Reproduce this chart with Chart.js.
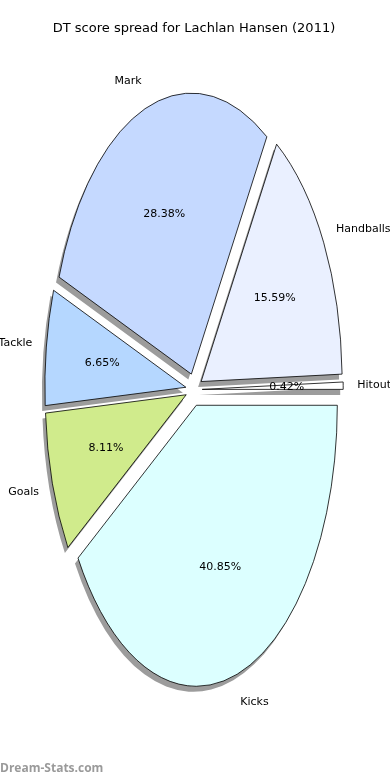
<!DOCTYPE html>
<html>
<head>
<meta charset="utf-8">
<script src="https://cdn.jsdelivr.net/npm/chart.js@4.4.1/dist/chart.umd.min.js"></script>
<style>
  html, body { margin: 0; padding: 0; background: #ffffff; }
  canvas { display: block; }
</style>
</head>
<body>
<canvas id="c" width="390" height="780"></canvas>
<script>
// ---- data (clockwise drawing order, starting at 3 o'clock) ----
const categories  = ['Kicks', 'Goals', 'Tackle', 'Mark', 'Handballs', 'Hitout'];
const percentages = [40.85, 8.11, 6.65, 28.38, 15.59, 0.42];
const sliceColors = ['#dcffff', '#d0eb8c', '#b5d7ff', '#c5d9ff', '#eaf0ff', '#ffffff'];
const chartTitle  = 'DT score spread for Lachlan Hansen (2011)';
const watermark   = 'Dream-Stats.com';

// ---- styling ----
const RADIUS = 141;        // horizontal radius in px
const Y_STRETCH = 1.993;   // vertical stretch of the pie (ellipse)
const EXPLODE = 8.2;       // explode distance (unstretched px)
const SHADOW_COLOR = '#9c9c9c';
const LABEL_FONT = '11px "DejaVu Sans"';

const pieStyle = {
  id: 'pieStyle',
  beforeDatasetsDraw(chart) {
    const ctx = chart.ctx;
    const els = chart.getDatasetMeta(0).data;
    if (!els.length) return;
    const cy = els[0].y;
    ctx.save();
    ctx.translate(0, cy);
    ctx.scale(1, Y_STRETCH);
    ctx.translate(0, -cy);
    ctx.shadowColor = SHADOW_COLOR;
    ctx.shadowOffsetX = -3;
    ctx.shadowOffsetY = 5.5;
    ctx.shadowBlur = 0;
    els.forEach(el => {
      const mid = (el.startAngle + el.endAngle) / 2;
      el._baseX = el.x; el._baseY = el.y;
      el.x = el._baseX + EXPLODE * Math.cos(mid);
      el.y = el._baseY + EXPLODE * Math.sin(mid);
    });
  },
  afterDatasetsDraw(chart) {
    const ctx = chart.ctx;
    const els = chart.getDatasetMeta(0).data;
    if (!els.length) return;
    // outlines, built in stretched space, stroked in normal space
    ctx.beginPath();
    els.forEach(el => {
      ctx.moveTo(el.x, el.y);
      ctx.arc(el.x, el.y, el.outerRadius, el.startAngle, el.endAngle);
      ctx.closePath();
    });
    ctx.restore();
    ctx.save();
    ctx.lineWidth = 0.8;
    ctx.strokeStyle = '#000000';
    ctx.lineJoin = 'miter';
    ctx.stroke();
    ctx.restore();
    els.forEach(el => { el.x = el._baseX; el.y = el._baseY; });

    // labels
    ctx.save();
    ctx.font = LABEL_FONT;
    ctx.fillStyle = '#000000';
    ctx.textBaseline = 'middle';
    els.forEach((el, i) => {
      const cx = el.x, cy = el.y;
      const R = el.outerRadius;
      const mid = (el.startAngle + el.endAngle) / 2;
      const ex = cx + EXPLODE * Math.cos(mid);
      const ey = cy + EXPLODE * Math.sin(mid);
      const lx = ex + 1.1 * R * Math.cos(mid);
      const ly = ey + 1.1 * R * Math.sin(mid);
      ctx.textAlign = lx > cx ? 'left' : 'right';
      ctx.fillText(categories[i], lx, cy + (ly - cy) * Y_STRETCH);
      const px = ex + 0.6 * R * Math.cos(mid);
      const py = ey + 0.6 * R * Math.sin(mid);
      ctx.textAlign = 'center';
      ctx.fillText(percentages[i].toFixed(2) + '%', px, cy + (py - cy) * Y_STRETCH);
    });
    ctx.restore();
  }
};

new Chart(document.getElementById('c'), {
  type: 'pie',
  data: {
    labels: categories,
    datasets: [{
      data: percentages,
      backgroundColor: sliceColors,
      borderWidth: 0,
      hoverOffset: 0,
      offset: 0,
      radius: RADIUS,
      clip: false
    }]
  },
  options: {
    responsive: false,
    animation: false,
    events: [],
    rotation: 90,
    layout: { padding: { left: 0, right: 2, top: 0, bottom: 0 } },
    plugins: {
      legend: { display: false },
      tooltip: { enabled: false },
      title: {
        display: true,
        text: chartTitle,
        color: '#000000',
        font: { family: '"DejaVu Sans"', size: 13, weight: 'normal' },
        padding: { top: 21, bottom: 0 }
      },
      subtitle: {
        display: true,
        text: watermark,
        position: 'bottom',
        align: 'start',
        color: '#9a9a9a',
        font: { family: '"Open Sans"', size: 12, weight: 'bold' },
        padding: { top: 19, bottom: 4 }
      }
    }
  },
  plugins: [pieStyle]
});
</script>
</body>
</html>
